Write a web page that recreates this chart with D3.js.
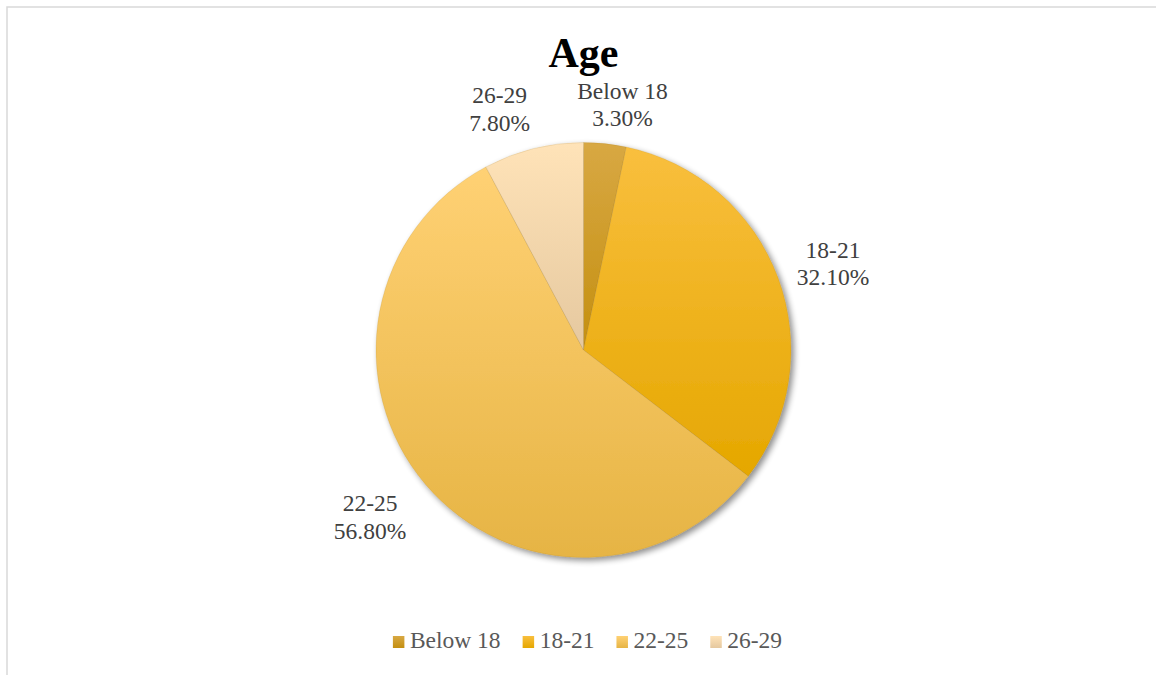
<!DOCTYPE html>
<html>
<head>
<meta charset="utf-8">
<script src="https://cdn.jsdelivr.net/npm/d3@7"></script>
<style>
  html, body { margin: 0; padding: 0; background: #fff; }
  svg { display: block; }
</style>
</head>
<body>
<svg id="chart" width="1156" height="675"></svg>
<script>
// Age distribution of respondents (percent)
const categories = ["Below 18", "18-21", "22-25", "26-29"];
const values = [3.3, 32.1, 56.8, 7.8];
const chartTitle = "Age";

// Fill gradients per slice (top colour, bottom colour)
const gradTop = ["#D8A843", "#F9BF3E", "#FFD174", "#FFE3B8"];
const gradBottom = ["#C48F10", "#E5A700", "#E6B444", "#E5C89F"];

// Label placement: polar offset from the slice mid-angle, plus small nudges
const labelRadius = 255;
const labelNudge = [[12.6, 8.6], [10.4, 2.6], [-19, 2.1], [-22, 6.4]];

const W = 1156, H = 675;
const cx = 583.5, cy = 350, R = 207.5;
const font = "'Liberation Serif', 'Times New Roman', serif";
const textSize = 23.5;

const svg = d3.select("#chart");
const defs = svg.append("defs");

// soft drop shadow under the pie
const shadow = defs.append("filter").attr("id", "pieShadow")
  .attr("x", "-10%").attr("y", "-10%").attr("width", "125%").attr("height", "125%");
shadow.append("feGaussianBlur").attr("in", "SourceAlpha").attr("stdDeviation", 3).attr("result", "blur");
shadow.append("feOffset").attr("in", "blur").attr("dx", 3).attr("dy", 3).attr("result", "off");
shadow.append("feComponentTransfer").attr("in", "off").attr("result", "shade")
  .append("feFuncA").attr("type", "linear").attr("slope", 0.45);
const merge = shadow.append("feMerge");
merge.append("feMergeNode").attr("in", "shade");
merge.append("feMergeNode").attr("in", "SourceGraphic");

categories.forEach((c, i) => {
  const g = defs.append("linearGradient").attr("id", "grad" + i)
    .attr("x1", 0).attr("y1", 0).attr("x2", 0).attr("y2", 1);
  g.append("stop").attr("offset", "0%").attr("stop-color", gradTop[i]);
  g.append("stop").attr("offset", "100%").attr("stop-color", gradBottom[i]);
});

// chart area border
svg.append("rect")
  .attr("x", 7).attr("y", 7).attr("width", W + 20).attr("height", H + 20)
  .attr("fill", "none").attr("stroke", "#D9D9D9").attr("stroke-width", 1.5);

// title
svg.append("text")
  .attr("x", cx).attr("y", 67)
  .attr("text-anchor", "middle")
  .attr("font-family", font).attr("font-weight", "bold").attr("font-size", 42)
  .attr("fill", "#000")
  .text(chartTitle);

const data = categories.map((c, i) => ({ category: c, value: values[i], index: i }));
const pie = d3.pie().sort(null).value(d => d.value);
const arcs = pie(data);
const arc = d3.arc().innerRadius(0).outerRadius(R);

const pieG = svg.append("g")
  .attr("transform", `translate(${cx},${cy})`)
  .attr("filter", "url(#pieShadow)");

pieG.selectAll("path.slice")
  .data(arcs)
  .join("path")
  .attr("class", "slice")
  .attr("d", arc)
  .attr("fill", d => `url(#grad${d.data.index})`)
  .attr("stroke", "rgba(150,110,20,0.25)")
  .attr("stroke-width", 0.6);

// data labels: category name and percentage
const labelG = svg.append("g").attr("transform", `translate(${cx},${cy})`);
arcs.forEach(d => {
  const mid = (d.startAngle + d.endAngle) / 2;
  const nudge = labelNudge[d.data.index];
  const x = Math.sin(mid) * labelRadius + nudge[0];
  const y = -Math.cos(mid) * labelRadius + nudge[1];
  const t = labelG.append("text")
    .attr("text-anchor", "middle")
    .attr("font-family", font).attr("font-size", textSize)
    .attr("fill", "#404040");
  t.append("tspan").attr("x", x).attr("y", y - 6).text(d.data.category);
  t.append("tspan").attr("x", x).attr("y", y + 21.5).text(d.data.value.toFixed(2) + "%");
});

// legend
const legendY = 648;
const legendG = svg.append("g");
const items = legendG.selectAll("g.item").data(data).join("g").attr("class", "item");
items.append("rect")
  .attr("y", legendY - 12).attr("width", 11.5).attr("height", 12)
  .attr("fill", d => `url(#grad${d.index})`);
items.append("text")
  .attr("x", 17).attr("y", legendY)
  .attr("font-family", font).attr("font-size", textSize)
  .attr("fill", "#595959")
  .text(d => d.category);

let offset = 0;
const positions = [];
items.each(function () {
  const w = d3.select(this).select("text").node().getComputedTextLength();
  positions.push(offset);
  offset += 17 + w + 22;
});
const legendWidth = offset - 22;
const legendStart = 587.5 - legendWidth / 2;
items.attr("transform", (d, i) => `translate(${legendStart + positions[i]},0)`);
</script>
</body>
</html>
